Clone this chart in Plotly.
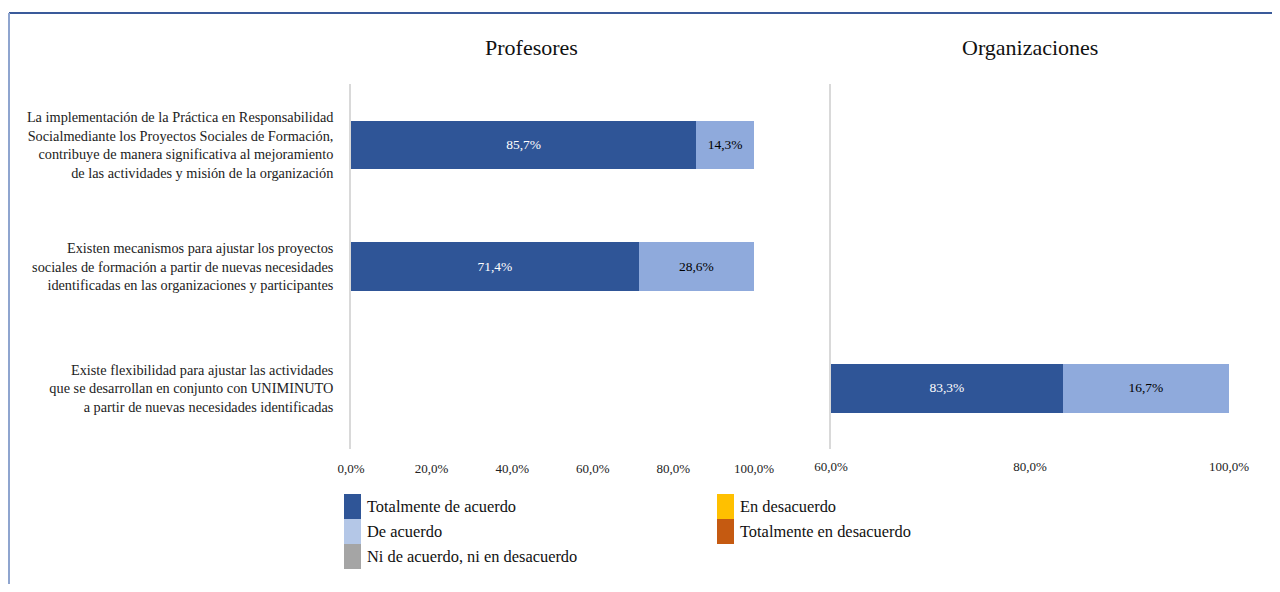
import plotly.graph_objects as go

FONT = "Liberation Serif, Times New Roman, serif"

categories = [
    "La implementación de la Práctica en Responsabilidad<br>Socialmediante los Proyectos Sociales de Formación,<br>contribuye de manera significativa al mejoramiento<br>de las actividades y misión de la organización",
    "Existen mecanismos para ajustar los proyectos<br>sociales de formación a partir de nuevas necesidades<br>identificadas en las organizaciones y participantes",
    "Existe flexibilidad para ajustar las actividades<br>que se desarrollan en conjunto con UNIMINUTO<br>a partir de nuevas necesidades identificadas",
]

series_names = [
    "Totalmente de acuerdo",
    "De acuerdo",
    "Ni de acuerdo, ni en desacuerdo",
    "En desacuerdo",
    "Totalmente en desacuerdo",
]
bar_colors = ["#2F5597", "#8FAADC", "#A5A5A5", "#FFC000", "#C55A11"]
legend_colors = ["#2F5597", "#B4C7E7", "#A5A5A5", "#FFC000", "#C55A11"]
text_colors = ["white", "black", "black", "black", "white"]

# Profesores (first two statements)
prof_values = [
    [85.7, 71.4, None],
    [14.3, 28.6, None],
    [0, 0, None],
    [0, 0, None],
    [0, 0, None],
]
# Organizaciones (third statement)
org_values = [
    [None, None, 83.3],
    [None, None, 16.7],
    [None, None, 0],
    [None, None, 0],
    [None, None, 0],
]

prof_ticks = [0, 20, 40, 60, 80, 100]
prof_ticktext = ["0,0%", "20,0%", "40,0%", "60,0%", "80,0%", "100,0%"]
org_ticks = [60, 80, 100]
org_ticktext = ["60,0%", "80,0%", "100,0%"]
org_min = 60

# figure is drawn inside the default 8px body margin of the page
W, H, OFF = 1264, 576, 8


def px(x):
    return (x - OFF) / W


def py(y):
    return 1 - (y - OFF) / H


fig = go.Figure()

for name, vals, col, tcol in zip(series_names, prof_values, bar_colors, text_colors):
    fig.add_trace(go.Bar(
        y=categories, x=vals, orientation="h", name=name,
        marker=dict(color=col, line=dict(width=0)),
        text=[f"{v:.1f}%".replace(".", ",") if v else "" for v in vals],
        textposition="inside", insidetextanchor="middle",
        textfont=dict(family=FONT, size=13.5, color=tcol),
        xaxis="x", yaxis="y", showlegend=False, hoverinfo="skip",
    ))

# Organizaciones bars (axis starts at 60%, so labels sit at visible midpoints)
cum = [0, 0, 0]
lab_x, lab_y, lab_t, lab_c = [], [], [], []
for name, vals, col, tcol in zip(series_names, org_values, bar_colors, text_colors):
    fig.add_trace(go.Bar(
        y=categories, x=vals, orientation="h", name=name,
        marker=dict(color=col, line=dict(width=0)),
        xaxis="x2", yaxis="y2", showlegend=False, hoverinfo="skip",
    ))
    for i, v in enumerate(vals):
        if v:
            start, end = cum[i], cum[i] + v
            lab_x.append((max(start, org_min) + end) / 2)
            lab_y.append(categories[i])
            lab_t.append(f"{v:.1f}%".replace(".", ","))
            lab_c.append(tcol)
            cum[i] = end

fig.add_trace(go.Scatter(
    x=lab_x, y=lab_y, text=lab_t, mode="text",
    textfont=dict(family=FONT, size=13.5, color=lab_c),
    xaxis="x2", yaxis="y2", showlegend=False, hoverinfo="skip",
))

y_dom = [py(449), py(84)]
x1_dom = [px(351), px(754)]
x2_dom = [px(831), px(1229)]

axis_font = dict(family=FONT, size=13, color="#222222")

fig.update_layout(
    width=W, height=H,
    margin=dict(l=0, r=0, t=0, b=0, autoexpand=False),
    paper_bgcolor="white", plot_bgcolor="white",
    barmode="stack", bargap=0.6,
    font=dict(family=FONT, color="#222222"),
    xaxis=dict(
        domain=x1_dom, range=[0, 100], tickvals=prof_ticks, ticktext=prof_ticktext,
        showgrid=False, zeroline=False, automargin=False,
        showline=False, ticks="", tickfont=axis_font, ticklabelstandoff=10,
        anchor="y",
    ),
    yaxis=dict(
        domain=y_dom, type="category", categoryorder="array",
        categoryarray=categories[::-1], showgrid=False, zeroline=False,
        showline=True, linecolor="#D9D9D9", linewidth=1.5, ticks="",
        tickfont=dict(family=FONT, size=14.3, color="#222222"), automargin=False,
        ticklabelstandoff=13, anchor="x",
    ),
    xaxis2=dict(
        domain=x2_dom, range=[org_min, 100], tickvals=org_ticks, ticktext=org_ticktext,
        showgrid=False, zeroline=False, automargin=False,
        showline=False, ticks="", tickfont=axis_font, ticklabelstandoff=8,
        anchor="y2",
    ),
    yaxis2=dict(
        domain=y_dom, type="category", categoryorder="array",
        categoryarray=categories[::-1], showgrid=False, zeroline=False,
        showline=True, linecolor="#D9D9D9", linewidth=1.5, ticks="",
        showticklabels=False, anchor="x2", automargin=False,
    ),
)

# panel titles
for txt, cx in [("Profesores", 531), ("Organizaciones", 1030)]:
    fig.add_annotation(
        x=px(cx), y=py(48), xref="paper", yref="paper",
        xanchor="center", yanchor="middle",
        text=txt, showarrow=False, font=dict(family=FONT, size=22, color="#111111"),
    )

# frame lines
fig.add_shape(type="line", xref="paper", yref="paper",
              x0=px(9), x1=1, y0=py(13), y1=py(13),
              line=dict(color="#3A5A9A", width=2))
fig.add_shape(type="line", xref="paper", yref="paper",
              x0=px(9), x1=px(9), y0=0, y1=py(13),
              line=dict(color="#8FA5CF", width=2))

# legend drawn as stacked swatches in two columns
legend_cols = [[0, 1, 2], [3, 4]]
col_x = [344, 717]
row_top = [494, 519, 544]
sw_w, sw_h = 17, 25
for ci, idxs in enumerate(legend_cols):
    for ri, k in enumerate(idxs):
        x0 = col_x[ci]
        y0 = row_top[ri]
        fig.add_shape(type="rect", xref="paper", yref="paper",
                      x0=px(x0), x1=px(x0 + sw_w),
                      y0=py(y0 + sw_h), y1=py(y0),
                      fillcolor=legend_colors[k], line=dict(width=0))
        fig.add_annotation(
            x=px(x0 + sw_w + 4), y=py(y0 + sw_h / 2),
            xref="paper", yref="paper", xanchor="left", yanchor="middle",
            text=series_names[k], showarrow=False,
            font=dict(family=FONT, size=16.4, color="#111111"),
        )

fig.write_html("out.html")
